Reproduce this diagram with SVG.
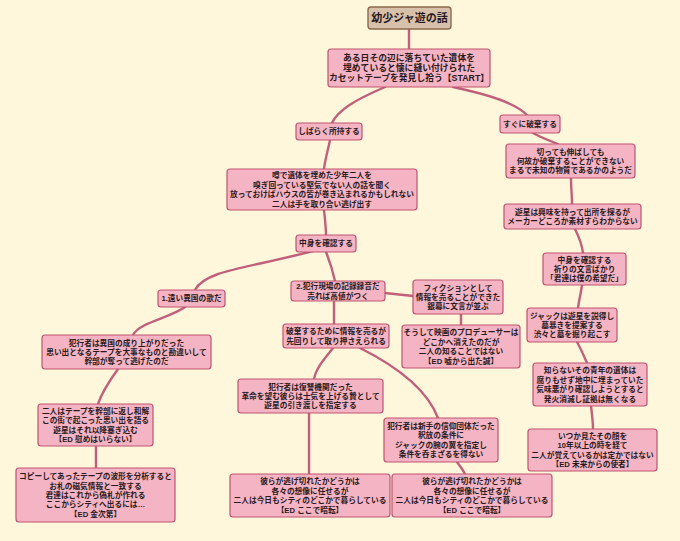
<svg xmlns="http://www.w3.org/2000/svg" width="680" height="541" viewBox="0 0 680 541">
<style>
.bg{fill:#fef7dc}
.n rect{fill:#f4b4c3;stroke:#bd5570;stroke-width:1.2}
.n text{font-family:"Liberation Sans","Noto Sans CJK JP",sans-serif;font-weight:bold;font-size:7.7px;fill:#2a1a1e;text-anchor:middle;dominant-baseline:central}
#root rect{fill:#d8c1aa;stroke:#8a6a4d;stroke-width:1.4}
#root text{font-size:11px}
#n1 text{font-size:8.8px}
.c path{fill:none;stroke:#c1607a;stroke-width:2.4;stroke-linecap:round}
</style>
<rect class="bg" x="0" y="0" width="680" height="541"/>
<g class="c" id="connectors">
<path d="M409,29 L409,49"/>
<path d="M385,87 C355,100 338,110 332,123"/>
<path d="M453,87 C490,95 515,103 527,115"/>
<path d="M330,140 C328,150 325,160 324,169"/>
<path d="M324,210 C325,220 326,228 326,235"/>
<path d="M533,133 C542,138 550,141 558,144"/>
<path d="M571,178 C571,188 572,196 572,204"/>
<path d="M575,229 C579,237 582,245 583,253"/>
<path d="M582,285 C581,293 579,300 578,308"/>
<path d="M577,342 C581,349 584,356 587,363"/>
<path d="M591,406 C592,414 593,422 593,429"/>
<path d="M313,251 C250,268 205,270 195,290"/>
<path d="M326,252 C330,262 333,272 335,281"/>
<path d="M185,307 C170,318 140,322 133,335"/>
<path d="M118,369 C110,380 102,392 98,404"/>
<path d="M96,446 L96,468"/>
<path d="M385,293 L413,296"/>
<path d="M461,314 L461,325"/>
<path d="M334,301 L334,324"/>
<path d="M333,348 C325,358 316,368 314,379"/>
<path d="M360,348 C400,368 428,392 438,418"/>
<path d="M309,413 L309,474"/>
<path d="M457,462 C460,466 463,470 465,474"/>
</g>
<g class="n" id="root"><rect x="368" y="7" width="83" height="22" rx="3"/><text x="409.5" y="18">幼少ジャ遊の話</text></g>
<g class="n" id="n1"><rect x="328" y="49" width="162" height="38" rx="3"/><text y="58"><tspan x="409">ある日その辺に落ちていた遺体を</tspan><tspan x="409" dy="10">埋めていると懐に縫い付けられた</tspan><tspan x="409" dy="10">カセットテープを発見し拾う【START】</tspan></text></g>
<g class="n" id="n2"><rect x="296" y="123" width="66" height="17" rx="3"/><text x="329" y="131.5">しばらく所持する</text></g>
<g class="n" id="n3"><rect x="500" y="115" width="60" height="18" rx="3"/><text x="530" y="124">すぐに破棄する</text></g>
<g class="n" id="n4"><rect x="227" y="169" width="190" height="41" rx="3"/><text y="175.4"><tspan x="322">噂で遺体を埋めた少年二人を</tspan><tspan x="322" dy="9.4">嗅ぎ回っている堅気でない人の話を聞く</tspan><tspan x="322" dy="9.4">放っておけばハウスの皆が巻き込まれるかもしれない</tspan><tspan x="322" dy="9.4">二人は手を取り合い逃げ出す</tspan></text></g>
<g class="n" id="n5"><rect x="296" y="235" width="60" height="17" rx="3"/><text x="326" y="243.5">中身を確認する</text></g>
<g class="n" id="n6"><rect x="506" y="144" width="129" height="34" rx="3"/><text y="151.6"><tspan x="570.5">切っても伸ばしても</tspan><tspan x="570.5" dy="9.4">何故か破棄することができない</tspan><tspan x="570.5" dy="9.4">まるで未知の物質であるかのようだ</tspan></text></g>
<g class="n" id="n7"><rect x="504" y="204" width="137" height="25" rx="3"/><text y="211.8"><tspan x="572.5">遊星は興味を持って出所を探るが</tspan><tspan x="572.5" dy="9.4">メーカーどころか素材すらわからない</tspan></text></g>
<g class="n" id="n8"><rect x="543" y="253" width="83" height="32" rx="3"/><text y="259.6"><tspan x="584.5">中身を確認する</tspan><tspan x="584.5" dy="9.4">祈りの文言ばかり</tspan><tspan x="584.5" dy="9.4">「君達は僕の希望だ」</tspan></text></g>
<g class="n" id="n9"><rect x="158" y="290" width="67" height="17" rx="3"/><text x="191.5" y="298.5">1.遠い異国の歌だ</text></g>
<g class="n" id="n10"><rect x="291" y="281" width="94" height="20" rx="3"/><text y="286.3"><tspan x="338">2.犯行現場の記録録音だ</tspan><tspan x="338" dy="9.4">売れば高値がつく</tspan></text></g>
<g class="n" id="n11"><rect x="413" y="280" width="90" height="34" rx="3"/><text y="287.6"><tspan x="458">フィクションとして</tspan><tspan x="458" dy="9.4">情報を売ることができた</tspan><tspan x="458" dy="9.4">銀幕に文言が並ぶ</tspan></text></g>
<g class="n" id="n12"><rect x="283" y="324" width="106" height="24" rx="3"/><text y="331.3"><tspan x="336">破棄するために情報を売るが</tspan><tspan x="336" dy="9.4">先回りして取り押さえられる</tspan></text></g>
<g class="n" id="n13"><rect x="402" y="325" width="118" height="43" rx="3"/><text y="332.4"><tspan x="461">そうして映画のプロデューサーは</tspan><tspan x="461" dy="9.4">どこかへ消えたのだが</tspan><tspan x="461" dy="9.4">二人の知ることではない</tspan><tspan x="461" dy="9.4">【ED 嘘から出た誠】</tspan></text></g>
<g class="n" id="n14"><rect x="527" y="308" width="90" height="34" rx="3"/><text y="315.6"><tspan x="572">ジャックは遊星を説得し</tspan><tspan x="572" dy="9.4">墓暴きを提案する</tspan><tspan x="572" dy="9.4">渋々と墓を掘り起こす</tspan></text></g>
<g class="n" id="n15"><rect x="533" y="363" width="114" height="43" rx="3"/><text y="370.4"><tspan x="590">知らないその青年の遺体は</tspan><tspan x="590" dy="9.4">腐りもせず地中に埋まっていた</tspan><tspan x="590" dy="9.4">気味悪がり確認しようとすると</tspan><tspan x="590" dy="9.4">発火消滅し証拠は無くなる</tspan></text></g>
<g class="n" id="n16"><rect x="528" y="429" width="129" height="42" rx="3"/><text y="435.9"><tspan x="592.5">いつか見たその顔を</tspan><tspan x="592.5" dy="9.4">10年以上の時を経て</tspan><tspan x="592.5" dy="9.4">二人が覚えているかは定かではない</tspan><tspan x="592.5" dy="9.4">【ED 未来からの使者】</tspan></text></g>
<g class="n" id="n17"><rect x="42" y="335" width="169" height="34" rx="3"/><text y="342.6"><tspan x="126.5">犯行者は異国の成り上がりだった</tspan><tspan x="126.5" dy="9.4">思い出となるテープを大事なものと勘違いして</tspan><tspan x="126.5" dy="9.4">幹部が奪って逃げたのだ</tspan></text></g>
<g class="n" id="n18"><rect x="38" y="404" width="115" height="42" rx="3"/><text y="410.9"><tspan x="95.5">二人はテープを幹部に返し和解</tspan><tspan x="95.5" dy="9.4">この街で起こった思い出を語る</tspan><tspan x="95.5" dy="9.4">遊星はそれ以降塞ぎ込む</tspan><tspan x="95.5" dy="9.4">【ED 慰めはいらない】</tspan></text></g>
<g class="n" id="n19"><rect x="238" y="379" width="145" height="34" rx="3"/><text y="386.6"><tspan x="310.5">犯行者は復讐機関だった</tspan><tspan x="310.5" dy="9.4">革命を望む彼らは士気を上げる贄として</tspan><tspan x="310.5" dy="9.4">遊星の引き渡しを指定する</tspan></text></g>
<g class="n" id="n20"><rect x="384" y="418" width="114" height="44" rx="3"/><text y="425.9"><tspan x="441">犯行者は新手の信仰団体だった</tspan><tspan x="441" dy="9.4">釈放の条件に</tspan><tspan x="441" dy="9.4">ジャックの腕の翼を指定し</tspan><tspan x="441" dy="9.4">条件を呑まざるを得ない</tspan></text></g>
<g class="n" id="n21"><rect x="16" y="468" width="159" height="54" rx="3"/><text y="476.2"><tspan x="95.5">コピーしてあったテープの波形を分析すると</tspan><tspan x="95.5" dy="9.4">お札の磁気情報と一致する</tspan><tspan x="95.5" dy="9.4">君達はこれから偽札が作れる</tspan><tspan x="95.5" dy="9.4">ここからシティへ出るには…</tspan><tspan x="95.5" dy="9.4">【ED 金次第】</tspan></text></g>
<g class="n" id="n22"><rect x="230" y="474" width="160" height="43" rx="3"/><text y="481.4"><tspan x="310">彼らが逃げ切れたかどうかは</tspan><tspan x="310" dy="9.4">各々の想像に任せるが</tspan><tspan x="310" dy="9.4">二人は今日もシティのどこかで暮らしている</tspan><tspan x="310" dy="9.4">【ED ここで暗転】</tspan></text></g>
<g class="n" id="n23"><rect x="392" y="474" width="160" height="43" rx="3"/><text y="481.4"><tspan x="472">彼らが逃げ切れたかどうかは</tspan><tspan x="472" dy="9.4">各々の想像に任せるが</tspan><tspan x="472" dy="9.4">二人は今日もシティのどこかで暮らしている</tspan><tspan x="472" dy="9.4">【ED ここで暗転】</tspan></text></g>
</svg>
